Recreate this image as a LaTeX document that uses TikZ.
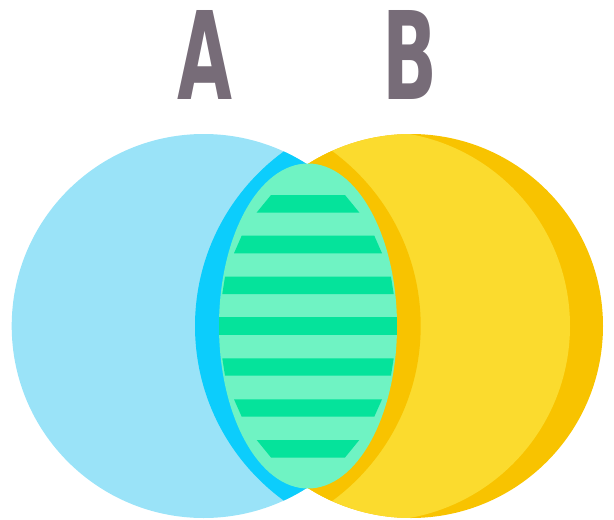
\documentclass[tikz,border=0pt]{standalone}
\usepackage{fontspec}
\setmainfont{DejaVu Sans}
\definecolor{lblue}{HTML}{9AE3F8}
\definecolor{dblue}{HTML}{0CCDFC}
\definecolor{lyellow}{HTML}{FBDB2E}
\definecolor{dyellow}{HTML}{F8C300}
\definecolor{lgreen}{HTML}{6FF3C3}
\definecolor{sgreen}{HTML}{05E39B}
\definecolor{lettergray}{HTML}{776C78}
\tikzset{letterlabel/.style={inner sep=0pt, outer sep=0pt, text=lettergray, font=\bfseries}}
\begin{document}
\begin{tikzpicture}[x=1pt,y=-1pt]
\useasboundingbox (0,0) rectangle (614,520);
% left circle A
\fill[lblue] (203.7,326) circle (192);
% right circle B (dark rim + light body)
\fill[dyellow] (411,326) circle (192);
\begin{scope}
  \clip (411,326) circle (192);
  \fill[lyellow] (375,326) circle (195);
\end{scope}
% darker lens halves
\begin{scope}
  \clip (411,326) circle (192);
  \clip (308,0) rectangle (614,520);
  \fill[dyellow] (203.7,326) circle (217);
\end{scope}
\begin{scope}
  \clip (203.7,326) circle (192);
  \clip (0,0) rectangle (308,520);
  \fill[dblue] (411,326) circle (216);
\end{scope}
% intersection ellipse
\fill[lgreen] (308,326) ellipse (89 and 162.5);
\begin{scope}
  \clip (308,326) ellipse (89 and 162.5);
  \foreach \yt/\yb/\wt/\wb in {195/212.5/37/51.3, 235.7/253.3/66.3/74, 276.7/294/83/85.7, 317/335/95/95, 358.3/375.7/85.7/83, 399.3/416.7/74/66.3, 440/457.5/51.3/37}{
    \fill[sgreen] (308-\wt,\yt) -- (308+\wt,\yt) -- (308+\wb,\yb) -- (308-\wb,\yb) -- cycle;
  }
\end{scope}
% labels
\node[letterlabel] (A) at (205.5,54.5) {\resizebox{55pt}{89pt}{A}};
\node[letterlabel] (B) at (410.5,54.5) {\resizebox{55pt}{89pt}{B}};
\end{tikzpicture}
\end{document}
